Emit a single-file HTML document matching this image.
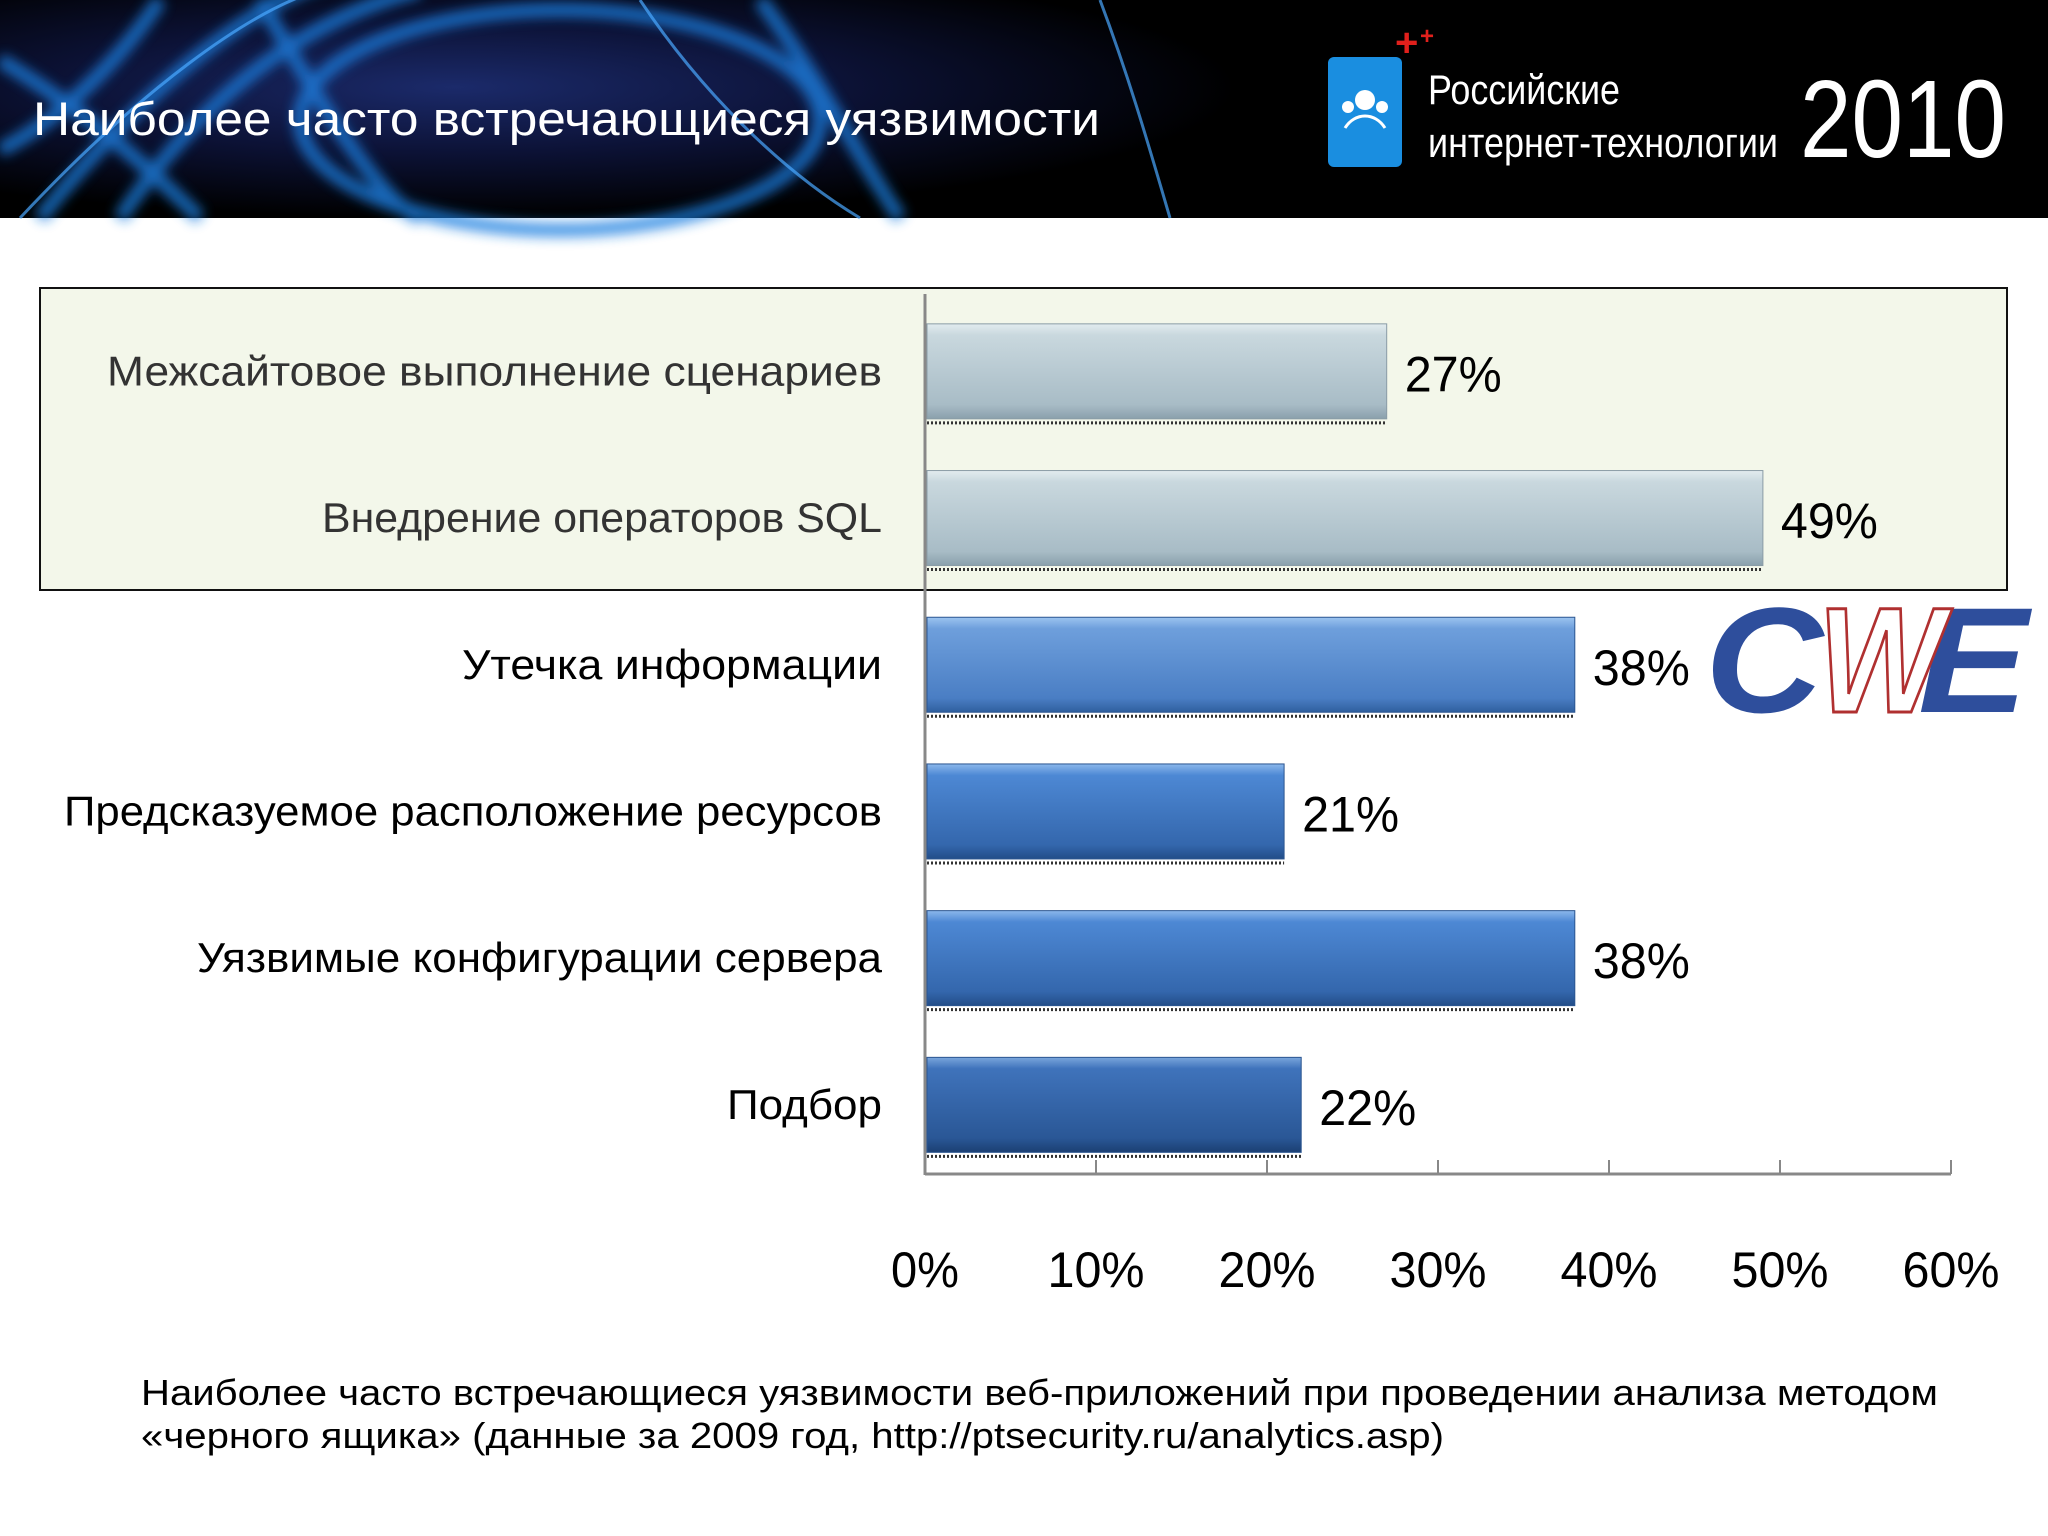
<!DOCTYPE html>
<html><head><meta charset="utf-8">
<style>
html,body{margin:0;padding:0;background:#fff;}
svg{display:block;}
text{font-family:"Liberation Sans","DejaVu Sans",sans-serif;}
</style></head>
<body>
<svg id="chart" width="2048" height="1536" viewBox="0 0 2048 1536" xmlns="http://www.w3.org/2000/svg">
<defs>
<radialGradient id="hdrGlow" cx="0.35" cy="0.4" r="0.6">
<stop offset="0" stop-color="#1b2a6a"/><stop offset="0.5" stop-color="#0c1236"/><stop offset="1" stop-color="#000"/>
</radialGradient>
<filter id="blur"><feGaussianBlur stdDeviation="6"/></filter>
<linearGradient id="gGray" x1="0" y1="0" x2="0" y2="1">
<stop offset="0" stop-color="#e2ecef"/><stop offset="0.12" stop-color="#c9d8de"/><stop offset="0.85" stop-color="#a8bcc6"/><stop offset="1" stop-color="#8aa0ac"/>
</linearGradient>
<linearGradient id="gBlue" x1="0" y1="0" x2="0" y2="1">
<stop offset="0" stop-color="#9cc4f0"/><stop offset="0.12" stop-color="#6e9fdc"/><stop offset="0.85" stop-color="#4a7ec4"/><stop offset="1" stop-color="#2f5f9e"/>
</linearGradient>
<linearGradient id="gBlue2" x1="0" y1="0" x2="0" y2="1">
<stop offset="0" stop-color="#8cb8ec"/><stop offset="0.12" stop-color="#4d88d4"/><stop offset="0.85" stop-color="#3467ad"/><stop offset="1" stop-color="#224d88"/>
</linearGradient>
<linearGradient id="gBlue3" x1="0" y1="0" x2="0" y2="1">
<stop offset="0" stop-color="#7aa6dc"/><stop offset="0.12" stop-color="#3f73bb"/><stop offset="0.85" stop-color="#2a5796"/><stop offset="1" stop-color="#1b3f72"/>
</linearGradient>
</defs>

<!-- header -->
<g>
<rect x="0" y="0" width="2048" height="218" fill="#000"/>
<rect x="0" y="0" width="1300" height="218" fill="url(#hdrGlow)"/>
<g filter="url(#blur)" fill="none" stroke="#1e7fe0" stroke-width="14" opacity="0.8">
<ellipse cx="560" cy="120" rx="260" ry="110"/>
<path d="M40 218 C150 80 260 0 330 -20"/>
<path d="M120 218 C200 100 300 20 420 -10"/>
<path d="M260 0 C330 120 380 200 420 218"/>
<path d="M760 0 C820 80 860 160 900 218"/>
<path d="M0 60 C100 120 160 180 200 218"/>
<path d="M0 150 C60 120 120 60 160 0"/>
</g>
<g fill="none" stroke="#4aa8ff" stroke-width="3" opacity="0.7">
<path d="M20 218 C140 90 250 10 320 -10"/>
<path d="M640 0 C700 90 780 170 860 218"/>
<path d="M1100 0 C1130 80 1150 150 1170 218"/>
</g>
<text x="33" y="135" font-size="47" fill="#fff" textLength="1067" lengthAdjust="spacingAndGlyphs">Наиболее часто встречающиеся уязвимости</text>
<g>
<rect x="1328" y="57" width="74" height="110" rx="6" fill="#1a8ee0"/>
<circle cx="1365" cy="100" r="10" fill="#fff"/><circle cx="1348" cy="107" r="6" fill="#fff"/><circle cx="1382" cy="107" r="6" fill="#fff"/>
<path d="M1345 128 C1355 112 1375 112 1385 128" stroke="#fff" stroke-width="3" fill="none"/>
<text x="1395" y="56" font-size="40" font-weight="bold" fill="#e0201c">+</text>
<text x="1420" y="44" font-size="24" font-weight="bold" fill="#e0201c">+</text>
<text x="1428" y="104" font-size="42" fill="#fff" textLength="192" lengthAdjust="spacingAndGlyphs">Российские</text>
<text x="1428" y="157" font-size="42" fill="#fff" textLength="350" lengthAdjust="spacingAndGlyphs">интернет-технологии</text>
<text x="1800" y="157" font-size="110" fill="#fff" textLength="206" lengthAdjust="spacingAndGlyphs">2010</text>
</g>
</g>

<!-- highlight box -->
<rect x="40" y="288" width="1967" height="302" fill="#f3f7ea" stroke="#111" stroke-width="2"/>

<g id="plot"></g>

<!-- CWE logo -->
<g>
<text x="1705" y="712" font-size="150" font-weight="bold" font-style="italic" fill="#2e4e9c" textLength="118" lengthAdjust="spacingAndGlyphs">C</text>
<text x="1918" y="712" font-size="150" font-weight="bold" font-style="italic" fill="#2e4e9c" textLength="110" lengthAdjust="spacingAndGlyphs">E</text>
<text x="1818" y="712" font-size="150" font-weight="bold" font-style="italic" fill="#fff" stroke="#b03030" stroke-width="3" textLength="125" lengthAdjust="spacingAndGlyphs">W</text>
</g>

<g>
<text x="141" y="1405" font-size="36" fill="#000" textLength="1797" lengthAdjust="spacingAndGlyphs">Наиболее часто встречающиеся уязвимости веб-приложений при проведении анализа методом</text>
<text x="141" y="1448" font-size="36" fill="#000" textLength="1303" lengthAdjust="spacingAndGlyphs">«черного ящика» (данные за 2009 год, http://ptsecurity.ru/analytics.asp)</text>
</g>
</svg>
<script>
const categories = ["Межсайтовое выполнение сценариев","Внедрение операторов SQL","Утечка информации","Предсказуемое расположение ресурсов","Уязвимые конфигурации сервера","Подбор"];
const values = [27, 49, 38, 21, 38, 22];
const tickValues = [0, 10, 20, 30, 40, 50, 60];
const tickLabels = ["0%","10%","20%","30%","40%","50%","60%"];
const labelWidths = [775, 560, 420, 818, 685, 155];

const NS = "http://www.w3.org/2000/svg";
const plot = document.getElementById('plot');
const x0 = 925, x1 = 1951, xMax = 60;
const xScale = v => x0 + (v / xMax) * (x1 - x0);
const yTop = 298, band = 146.7, barH = 95;
const yCenter = i => yTop + band * (i + 0.5);
const fills = ["url(#gGray)","url(#gGray)","url(#gBlue)","url(#gBlue2)","url(#gBlue2)","url(#gBlue3)"];

function mk(tag, attrs){const e=document.createElementNS(NS,tag);for(const k in attrs)e.setAttribute(k,attrs[k]);return e;}

categories.forEach((c, i) => {
  const yc = yCenter(i);
  const w = xScale(values[i]) - x0;
  const bar = mk('rect',{x:x0+2,y:yc-barH/2,width:w-2,height:barH,fill:fills[i],stroke:i<2?'#8a9ca6':'#2b5590','stroke-width':1});
  
  
  plot.appendChild(bar);
  const sh = mk('line',{x1:x0+2,y1:yc+barH/2+4,x2:x0+w,y2:yc+barH/2+4,stroke:'#333','stroke-width':3,'stroke-dasharray':'2 2'});
  
  
  plot.appendChild(sh);
  const lbl = mk('text',{x:882,y:yc+14,'font-size':42,'text-anchor':'end',fill:i<2?'#333':'#000',textLength:labelWidths[i],lengthAdjust:'spacingAndGlyphs'});
  lbl.textContent = c;
  
  
  plot.appendChild(lbl);
  const vl = mk('text',{x:x0+w+18,y:yc+20,'font-size':50,fill:'#000',textLength:97,lengthAdjust:'spacingAndGlyphs'});
  vl.textContent = values[i] + '%';
  
  
  plot.appendChild(vl);
});

const yAxis = mk('line',{x1:x0,y1:294,x2:x0,y2:1175,stroke:'#888','stroke-width':3});


plot.appendChild(yAxis);
const xAxis = mk('line',{x1:x0,y1:1174,x2:x1,y2:1174,stroke:'#888','stroke-width':3});


plot.appendChild(xAxis);
tickValues.forEach((t, i) => {
  const x = xScale(t);
  const tk = mk('line',{x1:x,y1:1160,x2:x,y2:1174,stroke:'#888','stroke-width':2});
  
  
  plot.appendChild(tk);
  const tl = mk('text',{x:x,y:1287,'font-size':50,'text-anchor':'middle',fill:'#000',textLength:tickLabels[i].length>2?97:68,lengthAdjust:'spacingAndGlyphs'});
  tl.textContent = tickLabels[i];
  
  
  plot.appendChild(tl);
});
</script>
</body></html>
